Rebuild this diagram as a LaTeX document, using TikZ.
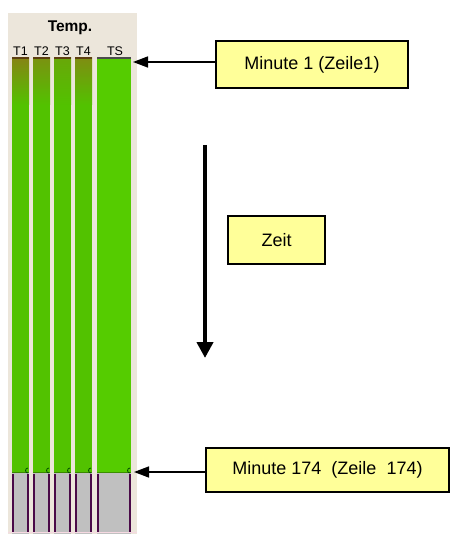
\documentclass[tikz,border=0pt]{standalone}
\usepackage{fontspec}
\setmainfont{Liberation Sans}
\usetikzlibrary{arrows.meta}
\definecolor{panel}{HTML}{ECE6DB}
\definecolor{bargreen}{HTML}{55CC00}
\definecolor{barolive}{HTML}{52C200}
\definecolor{barbrown}{HTML}{9C6A1E}
\definecolor{bargrey}{HTML}{C0C0C0}
\definecolor{barpurple}{HTML}{4A0A48}
\definecolor{boxyellow}{HTML}{FFFF99}
\tikzset{
  labelbox/.style={draw=black, line width=1.6pt, fill=boxyellow, inner sep=0pt,
    font=\fontsize{18}{20}\selectfont, text=black},
  pointer/.style={draw=black, line width=1.5pt, -{Triangle[length=15pt,width=11pt]}},
  timearrow/.style={draw=black, line width=4pt, -{Triangle[length=16pt,width=16pt]}},
  collabel/.style={font=\fontsize{12.5}{13}\selectfont, inner sep=0pt, text=black},
}
\begin{document}
\begin{tikzpicture}[x=1pt,y=-1pt]
\useasboundingbox (0,0) rectangle (451,534);
\fill[white] (0,0) rectangle (451,534);
% panel
\fill[panel] (8,13) rectangle (137,534);
\node[font=\bfseries\fontsize{15.5}{16}\selectfont, inner sep=0pt] (temp) at (70,28) {Temp.};
% column labels
\node[collabel] (lt1) at (20.5,51) {T1};
\node[collabel] (lt2) at (41.5,51) {T2};
\node[collabel] (lt3) at (62.5,51) {T3};
\node[collabel] (lt4) at (83.5,51) {T4};
\node[collabel] (lts) at (115,51) {TS};
% bars T1..T4
\foreach \xa/\xb/\br in {12/29/70, 33/50/55, 54/71/30, 75/92/60}{
  \fill[barolive] (\xa,58) rectangle (\xb,473);
  \shade[top color=barbrown!\br!barolive, bottom color=barolive] (\xa,58) rectangle (\xb,105);
  \fill[barbrown!60!black] (\xa,57.5) rectangle (\xb,59.5);
  \fill[bargrey] (\xa,473) rectangle (\xb,534);
  \fill[barolive!70!black] (\xa,471.5) rectangle (\xb,473);
  \draw[barpurple, line width=2pt] (\xa+1,474) -- (\xa+1,532);
  \draw[barpurple, line width=2pt] (\xb-1.5,474) -- (\xb-1.5,532);
  \draw[black!70!green, line width=0.8pt] (\xb-1,468) arc[start angle=90, end angle=270, radius=2.5pt];
}
% bar TS
\fill[bargreen] (97,58) rectangle (131,473);
\fill[black!70] (97,57.5) rectangle (131,59.5);
\fill[bargrey] (97,473) rectangle (131,534);
\fill[bargreen!70!black] (97,471.5) rectangle (131,473);
\draw[barpurple, line width=2pt] (98,474) -- (98,532);
\draw[barpurple, line width=2pt] (130,474) -- (130,532);
\draw[black!70!green, line width=0.8pt] (130,468) arc[start angle=90, end angle=270, radius=2.5pt];
\draw[white!85!purple, line width=1pt] (8,532.5) -- (137,532.5);
% boxes
\node[labelbox, minimum width=192pt, minimum height=47pt] (m1) at (312,64.5) {Minute 1 (Zeile1)};
\node[labelbox, minimum width=97pt, minimum height=48pt] (zeit) at (276.5,240) {Zeit};
\node[labelbox, minimum width=243pt, minimum height=44pt] (m174) at (327.5,470) {Minute 174\ \ (Zeile\ \ 174)};
% pointer arrows
\coordinate (p1) at (133,62);
\coordinate (p174) at (134,472);
\draw[pointer] (m1.west |- p1) -- (p1);
\draw[pointer] (m174.west |- p174) -- (p174);
% time arrow
\coordinate (ttop) at (205,145);
\coordinate (tbot) at (205,358);
\draw[timearrow] (ttop) -- (tbot);
\end{tikzpicture}
\end{document}
